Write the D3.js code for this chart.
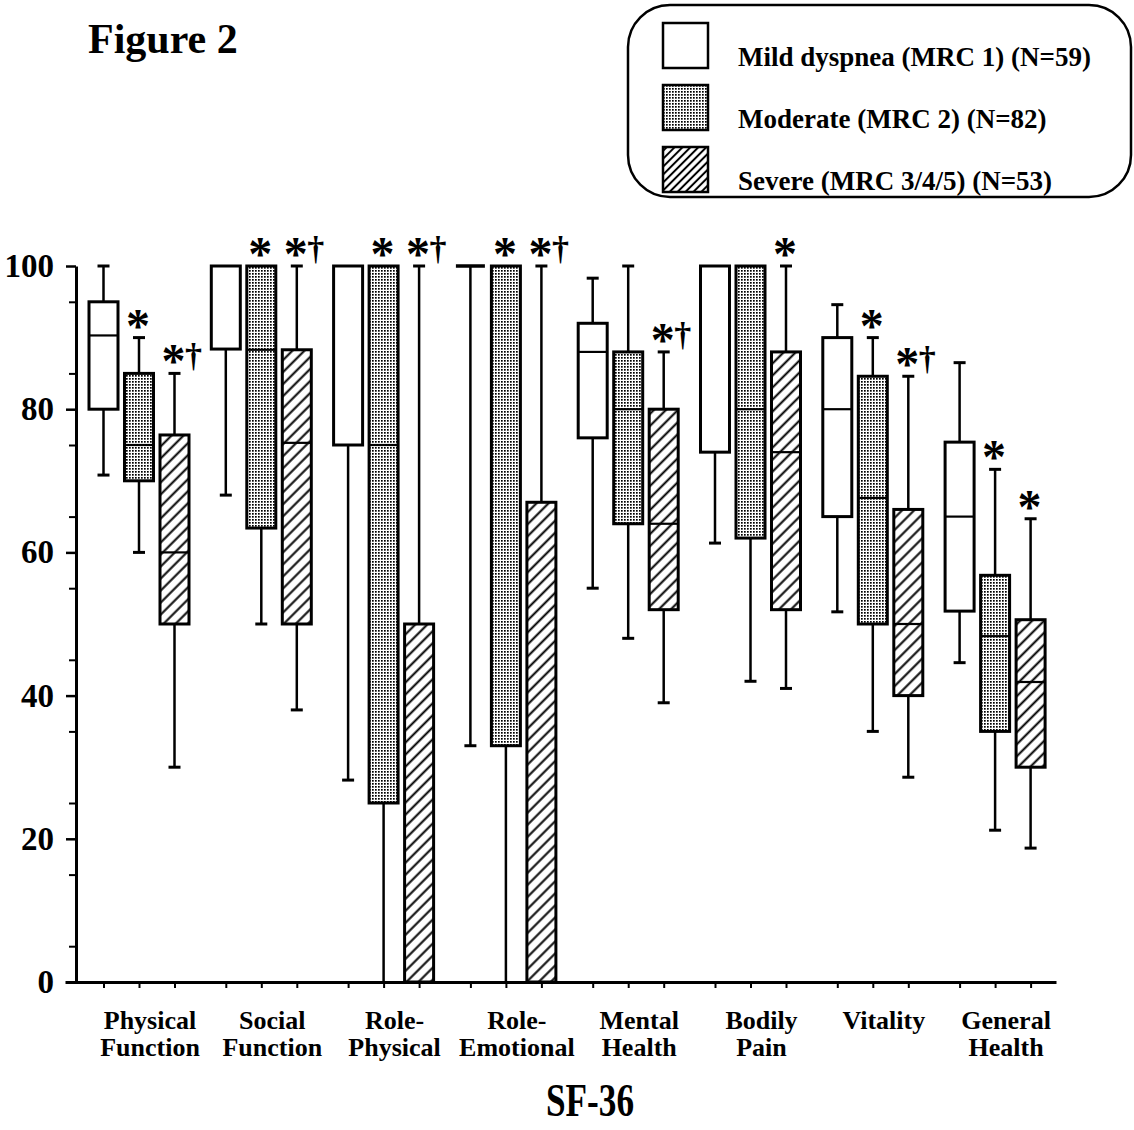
<!DOCTYPE html>
<html>
<head>
<meta charset="utf-8">
<script src="https://cdn.jsdelivr.net/npm/d3@7"></script>
<style>
  body { margin: 0; background: #fff; }
  text { font-family: "Liberation Serif", "Times New Roman", serif; font-weight: bold; fill: #000; }
</style>
</head>
<body>
<div id="chart-area"></div>
<script>
// SF-36 scores by dyspnea grade
var categories = ["Physical Function", "Social Function", "Role-Physical", "Role-Emotional",
    "Mental Health", "Bodily Pain", "Vitality", "General Health"];
var labelLines = [["Physical", "Function"], ["Social", "Function"], ["Role-", "Physical"], ["Role-", "Emotional"],
    ["Mental", "Health"], ["Bodily", "Pain"], ["Vitality"], ["General", "Health"]];
var groups = ["mild", "moderate", "severe"];
var groupLabels = ["Mild dyspnea (MRC 1) (N=59)", "Moderate (MRC 2) (N=82)", "Severe (MRC 3/4/5) (N=53)"];

// [low whisker, q1, median, q3, high whisker]
var mild = [
    [70.8, 80, 90.3, 95, 100],
    [68, 88.4, 100, 100, 100],
    [28.2, 75, 100, 100, 100],
    [33, 100, 100, 100, 100],
    [55, 76, 88, 92, 98.3],
    [61.3, 74, 100, 100, 100],
    [51.7, 65, 80, 90, 94.6],
    [44.6, 51.8, 65, 75.4, 86.5]
];
var moderate = [
    [60, 70, 75, 85, 90],
    [50, 63.4, 88.3, 100, 100],
    [0, 25, 75, 100, 100],
    [0, 33, 100, 100, 100],
    [48, 64, 80, 88, 100],
    [42, 62, 80, 100, 100],
    [35, 50, 67.6, 84.6, 90],
    [21.2, 35, 48.3, 56.8, 71.6]
];
var severe = [
    [30, 50, 60, 76.4, 85],
    [38, 50, 75.3, 88.3, 100],
    [0, 0, 0, 50, 100],
    [0, 0, 0, 67, 100],
    [39, 52, 64, 80, 88],
    [41, 52, 74, 88, 100],
    [28.6, 40, 50, 66, 84.6],
    [18.7, 30, 41.9, 50.6, 64.7]
];
var moderateMarks = ["*", "*", "*", "*", "", "", "*", "*"];
var severeMarks = ["*†", "*†", "*†", "*†", "*†", "*", "*†", "*"];
var yTicks = [0, 20, 40, 60, 80, 100];

var width = 1134, height = 1130;
var svg = d3.select("#chart-area").append("svg")
    .attr("width", width)
    .attr("height", height);
svg.append("rect").attr("width", width).attr("height", height).attr("fill", "#fff");

// patterns
var defs = svg.append("defs");
var dots = defs.append("pattern")
    .attr("id", "dots")
    .attr("patternUnits", "userSpaceOnUse")
    .attr("width", 3).attr("height", 3);
dots.append("rect").attr("width", 3).attr("height", 3).attr("fill", "#fff");
dots.append("rect").attr("width", 1.7).attr("height", 1.7).attr("fill", "#000");

function hatch(id, step) {
    var p = defs.append("pattern")
        .attr("id", id)
        .attr("patternUnits", "userSpaceOnUse")
        .attr("width", step).attr("height", step)
        .attr("patternTransform", "rotate(45)");
    p.append("rect").attr("width", step).attr("height", step).attr("fill", "#fff");
    p.append("line")
        .attr("x1", step / 2).attr("y1", 0)
        .attr("x2", step / 2).attr("y2", step)
        .attr("stroke", "#000").attr("stroke-width", 2);
}
hatch("hatch", 8.5);
hatch("hatch-legend", 5.6);

var fills = { mild: "#fff", moderate: "url(#dots)", severe: "url(#hatch)" };
var legendFills = ["#fff", "url(#dots)", "url(#hatch-legend)"];
var seriesData = { mild: mild, moderate: moderate, severe: severe };
var seriesMarks = { moderate: moderateMarks, severe: severeMarks };

// scales
var y = d3.scaleLinear().domain([0, 100]).range([982, 266]);
var x0 = d3.scaleBand().domain(categories).range([77.85, 1056.25]);
var xOff = d3.scalePoint().domain(groups).range([-35.5, 35.5]);
var boxW = 29;
function cx(cat, grp) { return x0(cat) + x0.bandwidth() / 2 + xOff(grp); }

// title
svg.append("text")
    .attr("x", 88).attr("y", 53)
    .attr("font-size", "42px")
    .text("Figure 2");

// legend
var legend = svg.append("g");
legend.append("rect")
    .attr("x", 628).attr("y", 5)
    .attr("width", 503).attr("height", 192)
    .attr("rx", 42).attr("ry", 42)
    .attr("fill", "none")
    .attr("stroke", "#000")
    .attr("stroke-width", 2.5);
groupLabels.forEach(function(lbl, i) {
    var row = legend.append("g")
        .attr("transform", "translate(663, " + (23 + i * 62) + ")");
    row.append("rect")
        .attr("width", 45).attr("height", 45)
        .attr("fill", legendFills[i])
        .attr("stroke", "#000")
        .attr("stroke-width", 2.5);
    row.append("text")
        .attr("x", 75).attr("y", 43)
        .attr("font-size", "27px")
        .text(lbl);
});

// y axis
var yAxis = svg.append("g")
    .attr("transform", "translate(76, 0)")
    .call(d3.axisLeft(y).tickValues(yTicks).tickSize(10).tickSizeOuter(0).tickPadding(12));
yAxis.select(".domain").attr("stroke-width", 3);
yAxis.selectAll(".tick line").attr("stroke-width", 2.5);
yAxis.selectAll(".tick text")
    .attr("font-size", "33px")
    .attr("font-family", "Liberation Serif, serif")
    .attr("font-weight", "bold");

var yMinor = svg.append("g")
    .attr("transform", "translate(76, 0)")
    .call(d3.axisLeft(y).tickValues(d3.range(5, 100, 10)).tickSize(7).tickSizeOuter(0).tickFormat(""));
yMinor.select(".domain").remove();
yMinor.selectAll(".tick line").attr("stroke-width", 2);

// x axis, ticks under each box
var boxCenters = [];
categories.forEach(function(c) { groups.forEach(function(g) { boxCenters.push(cx(c, g)); }); });
var xLine = d3.scaleLinear().domain([65, 1056]).range([65, 1056]);
var xAxis = svg.append("g")
    .attr("transform", "translate(0, 982)")
    .call(d3.axisBottom(xLine).tickValues(boxCenters).tickSize(6).tickSizeOuter(0).tickFormat(""));
xAxis.select(".domain").attr("stroke-width", 3);
xAxis.selectAll(".tick line").attr("stroke-width", 2);

// category labels
categories.forEach(function(c, i) {
    var t = svg.append("text")
        .attr("text-anchor", "middle")
        .attr("font-size", "26px");
    labelLines[i].forEach(function(line, j) {
        t.append("tspan")
            .attr("x", x0(c) + x0.bandwidth() / 2 + 11)
            .attr("y", 1029 + j * 27)
            .text(line);
    });
});

// boxes
var plot = svg.append("g");
groups.forEach(function(grp) {
    seriesData[grp].forEach(function(d, i) {
        var c = categories[i];
        var xc = cx(c, grp);
        var g = plot.append("g");
        var lo = d[0], q1 = d[1], med = d[2], q3 = d[3], hi = d[4];
        // whiskers
        if (hi > q3) {
            g.append("line").attr("x1", xc).attr("x2", xc).attr("y1", y(q3)).attr("y2", y(hi))
                .attr("stroke", "#000").attr("stroke-width", 2.5);
            g.append("line").attr("x1", xc - 6).attr("x2", xc + 6).attr("y1", y(hi)).attr("y2", y(hi))
                .attr("stroke", "#000").attr("stroke-width", 3);
        }
        if (lo < q1) {
            g.append("line").attr("x1", xc).attr("x2", xc).attr("y1", y(q1)).attr("y2", y(lo))
                .attr("stroke", "#000").attr("stroke-width", 2.5);
            if (lo > 0) {
                g.append("line").attr("x1", xc - 6).attr("x2", xc + 6).attr("y1", y(lo)).attr("y2", y(lo))
                    .attr("stroke", "#000").attr("stroke-width", 3);
            }
        }
        // box (collapsed box is drawn as a bar)
        if (q3 > q1) {
            g.append("rect")
                .attr("x", xc - boxW / 2)
                .attr("y", y(q3))
                .attr("width", boxW)
                .attr("height", y(q1) - y(q3))
                .attr("fill", fills[grp])
                .attr("stroke", "#000")
                .attr("stroke-width", 3);
        } else {
            g.append("line")
                .attr("x1", xc - boxW / 2).attr("x2", xc + boxW / 2)
                .attr("y1", y(q3)).attr("y2", y(q3))
                .attr("stroke", "#000").attr("stroke-width", 3.5);
        }
        if (med > q1 && med < q3) {
            g.append("line")
                .attr("x1", xc - boxW / 2).attr("x2", xc + boxW / 2)
                .attr("y1", y(med)).attr("y2", y(med))
                .attr("stroke", "#000").attr("stroke-width", 2.2);
        }
        // significance marks
        var marks = seriesMarks[grp] ? seriesMarks[grp][i] : "";
        if (marks.indexOf("*") >= 0) {
            g.append("text")
                .attr("x", xc - 1).attr("y", y(hi) + 4)
                .attr("text-anchor", "middle")
                .attr("font-size", "48px")
                .text("*");
        }
        if (marks.indexOf("†") >= 0) {
            g.append("text")
                .attr("x", xc + 19).attr("y", y(hi) - 6)
                .attr("text-anchor", "middle")
                .attr("font-size", "34px")
                .attr("font-weight", "normal")
                .text("†");
        }
    });
});

// axis title
svg.append("text")
    .attr("x", 590).attr("y", 1116)
    .attr("text-anchor", "middle")
    .attr("font-size", "46px")
    .attr("textLength", 88)
    .attr("lengthAdjust", "spacingAndGlyphs")
    .text("SF-36");
</script>
</body>
</html>
